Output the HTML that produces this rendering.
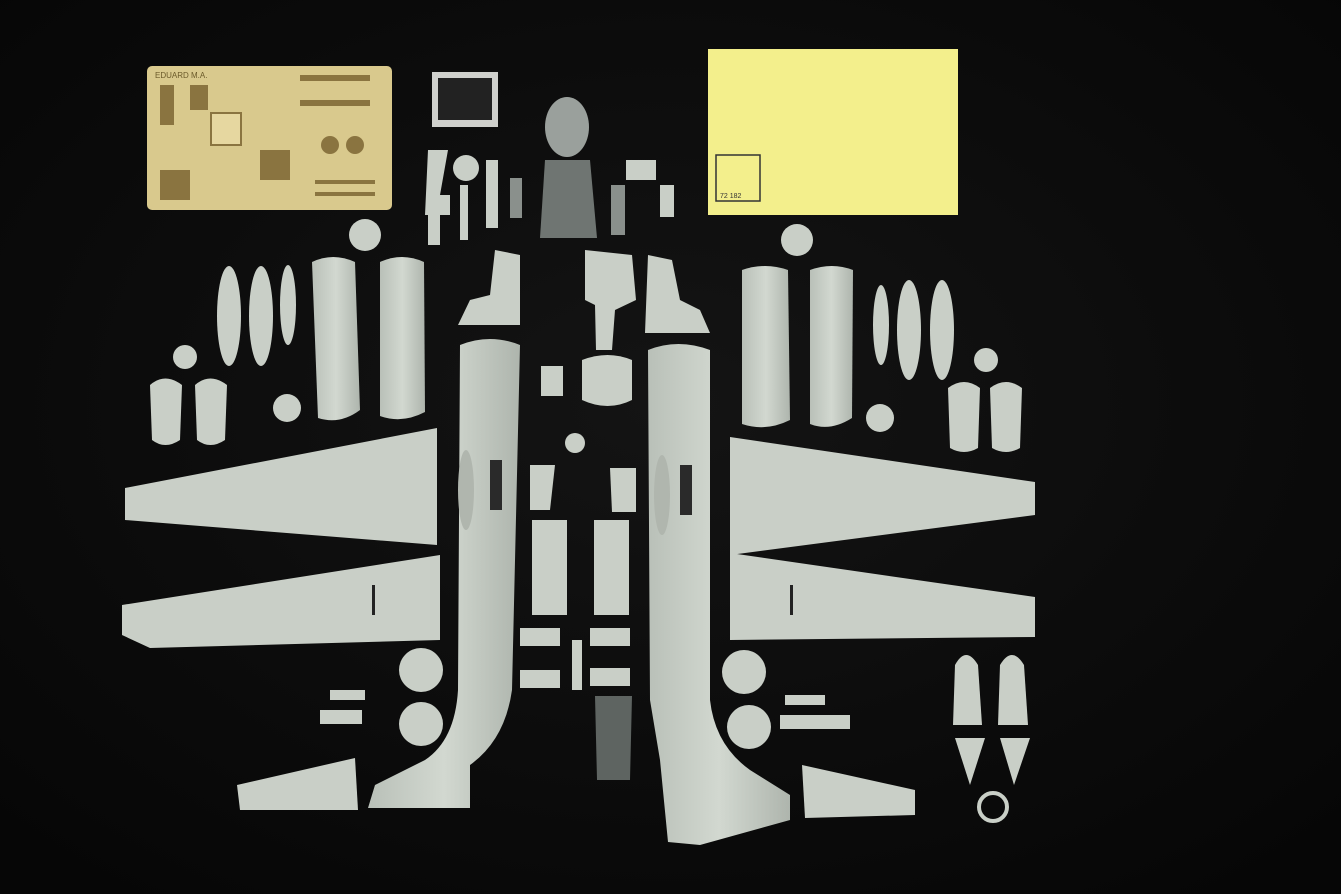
<!DOCTYPE html>
<html><head><meta charset="utf-8"><style>
html,body{margin:0;padding:0;background:#0b0b0b;}
svg{display:block}
</style></head><body>
<svg width="1341" height="894" viewBox="0 0 1341 894" xmlns="http://www.w3.org/2000/svg">
<defs>
<radialGradient id="bg" cx="50%" cy="45%" r="70%"><stop offset="0" stop-color="#141414"/><stop offset="1" stop-color="#060606"/></radialGradient>
<linearGradient id="pg" x1="0" y1="0" x2="1" y2="0"><stop offset="0" stop-color="#b9c0b8"/><stop offset="0.5" stop-color="#d2d8d0"/><stop offset="1" stop-color="#aeb5ad"/></linearGradient>
</defs>
<rect width="1341" height="894" fill="url(#bg)"/>
<g fill="#c9cfc7">
<!-- yellow sheet -->
<rect x="708" y="49" width="250" height="166" fill="#f3ef8c"/>
<rect x="716" y="155" width="44" height="46" fill="none" stroke="#333" stroke-width="1.5"/>
<text x="720" y="198" font-family="Liberation Sans, sans-serif" font-size="7" fill="#333">72 182</text>
<!-- PE fret -->
<rect x="147" y="66" width="245" height="144" rx="5" fill="#d9c98d"/>
<text x="155" y="78" font-family="Liberation Sans, sans-serif" font-size="8" fill="#6b5a2a">EDUARD M.A.</text>
<g fill="#8a7440">
<rect x="210" y="112" width="24" height="34"/><rect x="218" y="112" width="24" height="34"/>
<circle cx="330" cy="145" r="9"/><circle cx="355" cy="145" r="9"/>
<rect x="315" y="180" width="60" height="4"/><rect x="315" y="192" width="60" height="4"/>
<rect x="300" y="75" width="70" height="6"/><rect x="300" y="100" width="70" height="6"/>
<rect x="160" y="85" width="14" height="40"/><rect x="190" y="85" width="18" height="25"/>
<rect x="160" y="170" width="30" height="30"/><rect x="260" y="150" width="30" height="30"/>
</g>
<rect x="212" y="114" width="18" height="30" fill="#e6d7a0"/><rect x="222" y="114" width="18" height="30" fill="#e6d7a0"/>
<!-- small PE -->
<rect x="432" y="72" width="66" height="55" fill="#cfd0cc"/><rect x="438" y="78" width="54" height="42" fill="#222"/>
<!-- canopy -->
<ellipse cx="567" cy="127" rx="22" ry="30" fill="#9aa09c"/>
<path d="M545,160 L590,160 L597,238 L540,238 Z" fill="#6f7572"/>
<!-- top small parts -->
<circle cx="466" cy="168" r="13"/><circle cx="365" cy="235" r="16"/><circle cx="797" cy="240" r="16"/>
<rect x="486" y="160" width="12" height="68"/><rect x="510" y="178" width="12" height="40" fill="#8a908c"/>
<path d="M428,150 L448,150 L440,195 L450,195 L450,215 L425,215 Z"/>
<rect x="428" y="215" width="12" height="30"/><rect x="460" y="185" width="8" height="55"/>
<rect x="626" y="160" width="30" height="20"/><rect x="660" y="185" width="14" height="32"/><rect x="611" y="185" width="14" height="50" fill="#8a908c"/>
<!-- engine nacelles -->
<path d="M312,262 Q333,252 355,262 L360,410 Q340,425 318,418 Z" fill="url(#pg)"/>
<path d="M380,262 Q402,252 424,262 L425,412 Q402,424 380,416 Z" fill="url(#pg)"/>
<path d="M742,270 Q765,262 788,270 L790,420 Q766,432 742,424 Z" fill="url(#pg)"/>
<path d="M810,270 Q832,262 853,270 L852,418 Q830,432 810,424 Z" fill="url(#pg)"/>
<!-- drop tanks -->
<ellipse cx="229" cy="316" rx="12" ry="50"/><ellipse cx="261" cy="316" rx="12" ry="50"/><ellipse cx="288" cy="305" rx="8" ry="40"/>
<ellipse cx="909" cy="330" rx="12" ry="50"/><ellipse cx="942" cy="330" rx="12" ry="50"/><ellipse cx="881" cy="325" rx="8" ry="40"/>
<!-- cowlings -->
<circle cx="185" cy="357" r="12"/><path d="M150,385 Q165,372 182,385 L180,440 Q165,450 152,440 Z"/><path d="M195,385 Q210,372 227,385 L225,440 Q210,450 197,440 Z"/>
<circle cx="986" cy="360" r="12"/><path d="M948,388 Q964,376 980,388 L978,448 Q964,456 950,448 Z"/><path d="M990,388 Q1006,376 1022,388 L1020,448 Q1006,456 992,448 Z"/>
<circle cx="287" cy="408" r="14"/><circle cx="880" cy="418" r="14"/>
<!-- upper fuselage pieces -->
<path d="M495,250 L520,255 L520,325 L458,325 L470,300 L490,295 Z"/>
<path d="M648,255 L672,260 L680,300 L700,310 L710,333 L645,333 Z"/>
<!-- center parts -->
<path d="M585,250 L632,255 L636,300 L615,310 L612,350 L596,350 L595,305 L585,300 Z"/>
<path d="M582,360 Q608,350 632,360 L632,400 Q608,412 582,400 Z"/>
<rect x="541" y="366" width="22" height="30"/><circle cx="575" cy="443" r="10"/>
<path d="M530,465 L555,465 L550,510 L530,510 Z"/><path d="M610,468 L636,468 L636,512 L612,512 Z"/>
<rect x="532" y="520" width="35" height="95"/><rect x="594" y="520" width="35" height="95"/>
<rect x="520" y="628" width="40" height="18"/><rect x="590" y="628" width="40" height="18"/>
<rect x="520" y="670" width="40" height="18"/><rect x="590" y="668" width="40" height="18"/>
<rect x="572" y="640" width="10" height="50"/>
<path d="M595,696 L632,696 L630,780 L597,780 Z" fill="#5e6461"/>
<!-- fuselages -->
<path d="M460,345 Q490,333 520,345 L512,690 Q505,740 470,765 L470,808 L368,808 L375,785 L425,760 Q455,740 458,690 Z" fill="url(#pg)"/>
<path d="M648,350 Q678,338 710,350 L710,700 Q715,745 750,770 L790,795 L790,820 L700,845 L668,842 L660,760 L650,700 Z" fill="url(#pg)"/>
<ellipse cx="466" cy="490" rx="8" ry="40" fill="#b0b6ae"/><rect x="490" y="460" width="12" height="50" fill="#2a2a2a"/>
<ellipse cx="662" cy="495" rx="8" ry="40" fill="#b0b6ae"/><rect x="680" y="465" width="12" height="50" fill="#2a2a2a"/>
<!-- wings -->
<path d="M125,488 L437,428 L437,545 L125,520 Z"/>
<path d="M122,605 L440,555 L440,640 L150,648 L122,635 Z"/>
<path d="M730,437 L1035,482 L1035,515 L730,555 Z"/>
<path d="M730,553 L1035,597 L1035,637 L730,640 Z"/>
<rect x="372" y="585" width="3" height="30" fill="#222"/><rect x="790" y="585" width="3" height="30" fill="#222"/>
<!-- wheels -->
<circle cx="421" cy="670" r="22"/><circle cx="421" cy="724" r="22"/><circle cx="744" cy="672" r="22"/><circle cx="749" cy="727" r="22"/>
<!-- gear legs -->
<rect x="320" y="710" width="42" height="14"/><rect x="780" y="715" width="70" height="14"/><rect x="785" y="695" width="40" height="10"/><rect x="330" y="690" width="35" height="10"/>
<!-- tailplanes -->
<path d="M237,785 L355,758 L358,810 L240,810 Z"/>
<path d="M802,765 L915,790 L915,815 L805,818 Z"/>
<!-- exhausts/props -->
<path d="M955,665 Q966,645 978,665 L982,725 L953,725 Z"/><path d="M1000,665 Q1012,645 1024,665 L1028,725 L998,725 Z"/>
<path d="M955,738 L985,738 L970,785 Z"/><path d="M1000,738 L1030,738 L1014,785 Z"/>
<circle cx="993" cy="807" r="14" fill="none" stroke="#c9cfc7" stroke-width="4"/>
</g>
</svg>
</body></html>
